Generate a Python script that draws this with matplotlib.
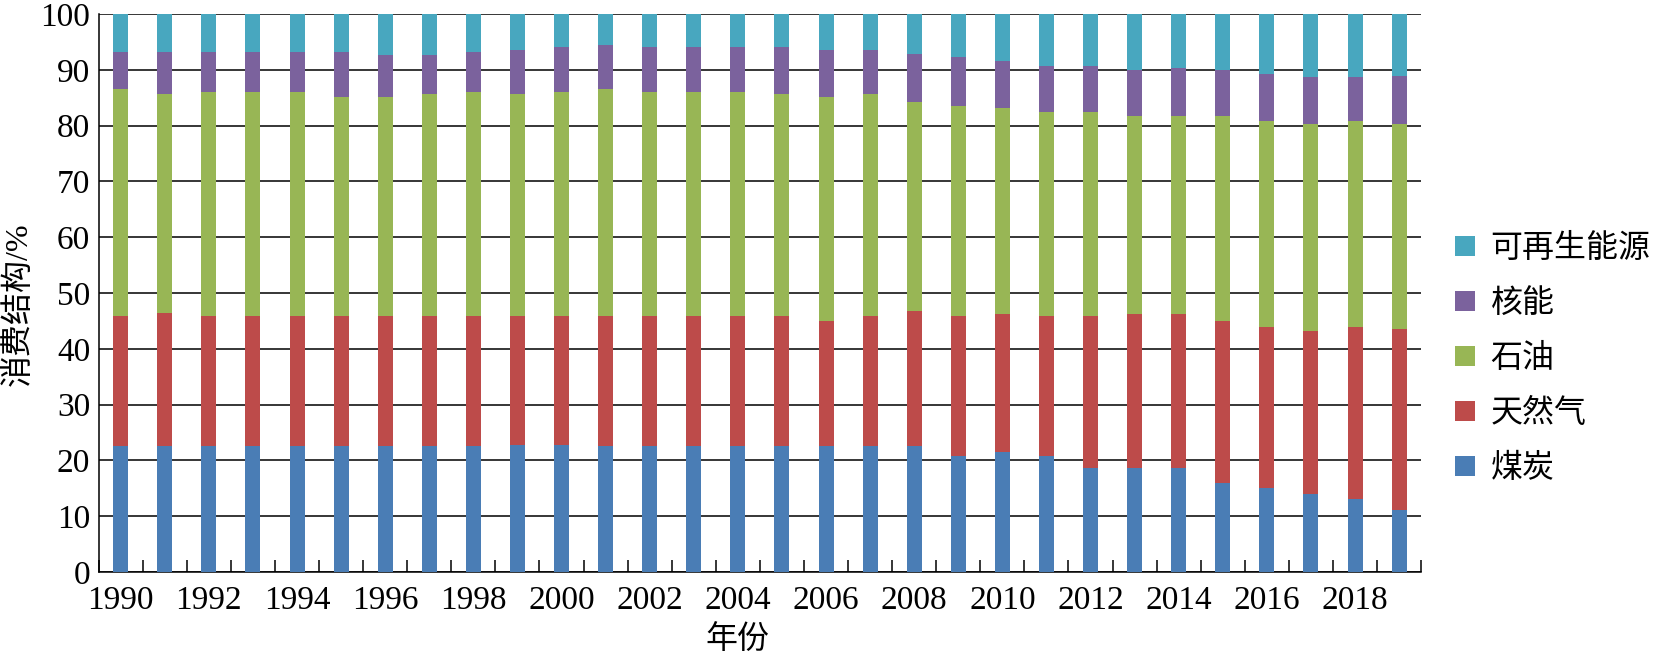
import numpy as np
import matplotlib
matplotlib.use("Agg")
import matplotlib.pyplot as plt

plt.rcParams['font.family'] = ['Liberation Serif', 'Noto Sans CJK SC']

years = list(range(1990, 2020))

# shares in %
coal = [22.6, 22.6, 22.6, 22.6, 22.6, 22.6, 22.6, 22.6, 22.6, 22.8,
        22.8, 22.6, 22.6, 22.6, 22.6, 22.6, 22.6, 22.6, 22.6, 20.8,
        21.5, 20.8, 18.7, 18.7, 18.6, 15.9, 15.0, 14.0, 13.1, 11.1]
gas = [23.3, 23.8, 23.3, 23.3, 23.3, 23.3, 23.3, 23.3, 23.3, 23.1,
       23.1, 23.3, 23.3, 23.3, 23.2, 23.2, 22.3, 23.3, 24.2, 25.0,
       24.8, 25.1, 27.1, 27.6, 27.7, 29.1, 28.9, 29.2, 30.8, 32.5]
oil = [40.6, 39.3, 40.2, 40.2, 40.2, 39.3, 39.3, 39.8, 40.2, 39.8,
       40.2, 40.6, 40.2, 40.2, 40.3, 39.8, 40.3, 39.7, 37.4, 37.7,
       36.9, 36.5, 36.6, 35.4, 35.4, 36.7, 36.9, 37.1, 36.9, 36.7]
nuclear = [6.7, 7.5, 7.1, 7.1, 7.1, 8.0, 7.4, 6.9, 7.1, 7.9,
           7.9, 8.0, 7.9, 7.9, 7.9, 8.4, 8.4, 7.9, 8.6, 8.8,
           8.3, 8.2, 8.2, 8.2, 8.6, 8.3, 8.4, 8.4, 7.9, 8.5]
renew = [6.8, 6.8, 6.8, 6.8, 6.8, 6.8, 7.4, 7.4, 6.8, 6.4,
         6.0, 5.5, 6.0, 6.0, 6.0, 6.0, 6.4, 6.5, 7.2, 7.7,
         8.5, 9.4, 9.4, 10.1, 9.7, 10.0, 10.8, 11.3, 11.3, 11.2]

series = [coal, gas, oil, nuclear, renew]
names = ['煤炭', '天然气', '石油', '核能', '可再生能源']
colors = ['#4A7DB5', '#BD4B4A', '#98B655', '#7B629D', '#48A7BF']

fig = plt.figure(figsize=(16.55, 6.56), dpi=100)
ax = fig.add_axes([0.0596, 0.128, 0.8587 - 0.0596, 0.9787 - 0.128])

x = np.arange(len(years))
bottom = np.zeros(len(years))
handles = []
for vals, name, c in zip(series, names, colors):
    b = ax.bar(x, vals, width=0.34, bottom=bottom, color=c, label=name, zorder=3)
    handles.append(b)
    bottom += np.array(vals)

ax.set_xlim(-0.5, len(years) - 0.5)
ax.set_ylim(0, 100)
ax.set_yticks(np.arange(0, 101, 10))
ax.yaxis.grid(True, color='black', linewidth=1.1, zorder=1)
ax.set_axisbelow(True)

ax.set_xticks(x[::2])
ax.set_xticklabels([str(y) for y in years[::2]])
ax.set_xticks(np.arange(-0.5, len(years)), minor=True)
ax.tick_params(axis='x', which='major', length=0, pad=10, labelsize=24)
ax.tick_params(axis='x', which='minor', direction='in', length=8.5, width=1.1, color='black')
ax.tick_params(axis='y', length=0, pad=6, labelsize=24)

for s in ['top', 'right']:
    ax.spines[s].set_visible(False)
for s in ['left', 'bottom']:
    ax.spines[s].set_color('black')
    ax.spines[s].set_linewidth(1.1)

ax.set_ylabel('消费结构/%', fontsize=23)
ax.yaxis.set_label_coords(-0.049, 0.48)
ax.set_xlabel('年份', fontsize=23)
ax.xaxis.set_label_coords((737 - 98.7) / (1420.5 - 98.7), -0.097)

leg = fig.legend(handles[::-1], names[::-1], loc='center left',
                 bbox_to_anchor=(0.879, 0.454), frameon=False,
                 prop={'family': ['Noto Sans CJK SC'], 'size': 23},
                 handlelength=0.62, handleheight=0.62, handletextpad=0.5,
                 labelspacing=0.72, borderpad=0, borderaxespad=0)

fig.savefig('out.png', dpi=100)
